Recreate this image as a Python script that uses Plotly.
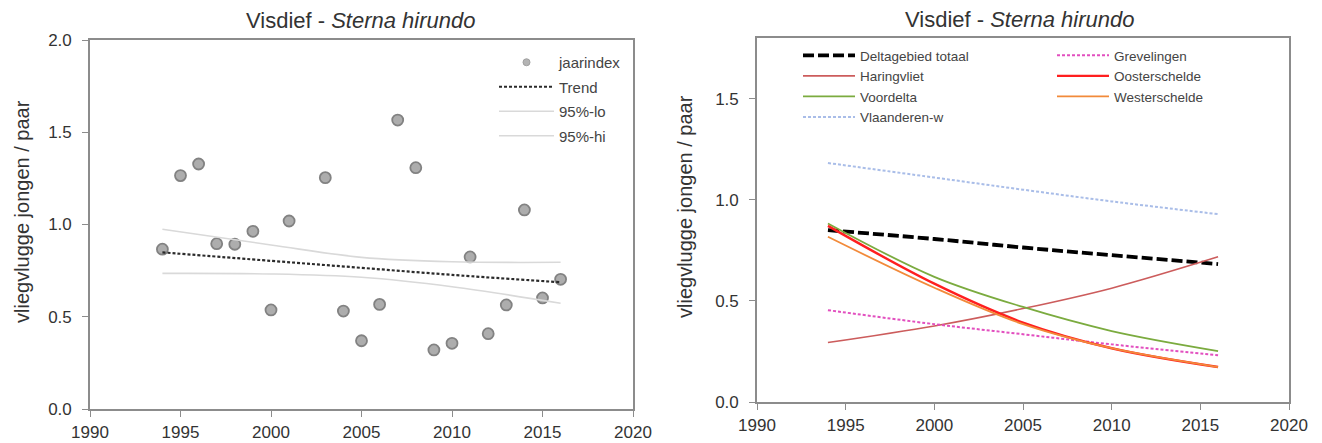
import plotly.graph_objects as go

# ---------------- data ----------------
# Left panel: annual index (jaarindex)
years_idx = [1994, 1995, 1996, 1997, 1998, 1999, 2000, 2001, 2003, 2004, 2005,
             2006, 2007, 2008, 2009, 2010, 2011, 2012, 2013, 2014, 2015, 2016]
jaarindex = [0.866, 1.265, 1.328, 0.896, 0.893, 0.963, 0.537, 1.019, 1.254, 0.531, 0.370,
             0.567, 1.566, 1.308, 0.320, 0.356, 0.824, 0.408, 0.564, 1.079, 0.602, 0.703]

trend_years = [1994, 2000, 2005, 2010, 2016]
trend = [0.849, 0.803, 0.765, 0.727, 0.687]
ci_lo = [0.735, 0.732, 0.714, 0.663, 0.573]
ci_hi = [0.974, 0.889, 0.822, 0.798, 0.795]

# Right panel: regional trends
reg_years = [1994, 2000, 2005, 2010, 2016]
deltagebied = [0.850, 0.806, 0.764, 0.726, 0.682]
grevelingen = [0.454, 0.385, 0.335, 0.285, 0.231]
haringvliet = [0.294, 0.376, 0.462, 0.563, 0.718]
oosterschelde = [0.871, 0.585, 0.393, 0.266, 0.173]
voordelta = [0.883, 0.619, 0.470, 0.351, 0.252]
westerschelde = [0.817, 0.565, 0.385, 0.266, 0.173]
vlaanderen = [1.182, 1.110, 1.050, 0.992, 0.929]

x_ticks = [1990, 1995, 2000, 2005, 2010, 2015, 2020]
left_y_ticks = [0.0, 0.5, 1.0, 1.5, 2.0]
right_y_ticks = [0.0, 0.5, 1.0, 1.5]

title_text = "Visdief - <i>Sterna hirundo</i>"
ytitle_text = "vliegvlugge jongen / paar"

# ---------------- figure ----------------
W, H = 1322, 443
FONT = "Liberation Sans, Arial, sans-serif"
fig = go.Figure()

# left panel
fig.add_trace(go.Scatter(x=years_idx, y=jaarindex, mode="markers", name="jaarindex",
                         marker=dict(size=11, color="#adadad", line=dict(color="#828282", width=1.8)),
                         xaxis="x", yaxis="y", showlegend=False))
# legend entry for the index markers (drawn smaller, as in the original legend)
fig.add_trace(go.Scatter(x=[None], y=[None], mode="markers", name="jaarindex",
                         marker=dict(size=7, color="#b4b4b4", line=dict(color="#a0a0a0", width=1)),
                         xaxis="x", yaxis="y", legend="legend", legendgroup="a"))
fig.add_trace(go.Scatter(x=trend_years, y=trend, mode="lines", name="Trend", line_shape="spline",
                         line=dict(color="#2b2b2b", width=2.2, dash="3px,2px"),
                         xaxis="x", yaxis="y", legend="legend", legendgroup="b"))
fig.add_trace(go.Scatter(x=trend_years, y=ci_lo, mode="lines", name="95%-lo", line_shape="spline",
                         line=dict(color="#d9d9d9", width=1.6),
                         xaxis="x", yaxis="y", legend="legend", legendgroup="c"))
fig.add_trace(go.Scatter(x=trend_years, y=ci_hi, mode="lines", name="95%-hi", line_shape="spline",
                         line=dict(color="#d9d9d9", width=1.6),
                         xaxis="x", yaxis="y", legend="legend", legendgroup="d"))

# right panel
def reg(name, vals, color, width, dash, legend):
    fig.add_trace(go.Scatter(x=reg_years, y=vals, mode="lines", name=name, line_shape="spline",
                             line=dict(color=color, width=width, dash=dash),
                             xaxis="x2", yaxis="y2", legend=legend))

reg("Deltagebied totaal", deltagebied, "#000000", 3.8, "11px,4px", "legend2")
reg("Haringvliet", haringvliet, "#cc5c5c", 1.6, "solid", "legend2")
reg("Voordelta", voordelta, "#7bab3f", 1.8, "solid", "legend2")
reg("Vlaanderen-w", vlaanderen, "#a9bde8", 2.0, "3px,2px", "legend2")
reg("Grevelingen", grevelingen, "#e24fbf", 2.0, "3px,2px", "legend3")
reg("Oosterschelde", oosterschelde, "#ff1f1f", 2.4, "solid", "legend3")
reg("Westerschelde", westerschelde, "#f28a3a", 1.8, "solid", "legend3")

def px_x(p):
    return p / W

def px_y(p):
    return 1 - p / H

axis_common = dict(showline=True, linecolor="#8c8c8c", linewidth=1.6, mirror=True,
                   ticks="outside", ticklen=6, tickcolor="#8c8c8c", tickwidth=1.3,
                   showgrid=False, zeroline=False, automargin=False,
                   tickfont=dict(family=FONT, size=17, color="#333333"))

fig.update_layout(
    width=W, height=H,
    margin=dict(l=0, r=0, t=0, b=0, autoexpand=False),
    paper_bgcolor="white", plot_bgcolor="white",
    font=dict(family=FONT, color="#333333"),
    xaxis=dict(domain=[px_x(90), px_x(633)], range=[1990, 2020], tickvals=x_ticks,
               anchor="y", ticklabelstandoff=1, **axis_common),
    yaxis=dict(domain=[px_y(409), px_y(40)], range=[0, 2], tickvals=left_y_ticks,
               tickformat=".1f", anchor="x", ticklabelstandoff=7, **axis_common),
    xaxis2=dict(domain=[px_x(757), px_x(1289)], range=[1990, 2020], tickvals=x_ticks,
                anchor="y2", ticklabelstandoff=1, **axis_common),
    yaxis2=dict(domain=[px_y(402), px_y(38)], range=[0, 1.8], tickvals=right_y_ticks,
                tickformat=".1f", anchor="x2", ticklabelstandoff=7, **axis_common),
    legend=dict(x=px_x(494), y=px_y(46), xanchor="left", yanchor="top",
                bgcolor="rgba(0,0,0,0)", font=dict(family=FONT, size=15, color="#444444"),
                itemwidth=55, tracegroupgap=2, traceorder="grouped"),
    legend2=dict(x=px_x(798), y=px_y(40), xanchor="left", yanchor="top",
                 bgcolor="rgba(0,0,0,0)", font=dict(family=FONT, size=13.5, color="#444444"),
                 itemwidth=52, tracegroupgap=0),
    legend3=dict(x=px_x(1052), y=px_y(40), xanchor="left", yanchor="top",
                 bgcolor="rgba(0,0,0,0)", font=dict(family=FONT, size=13.5, color="#444444"),
                 itemwidth=52, tracegroupgap=0),
    showlegend=True,
    annotations=[
        dict(text=title_text, x=px_x(361), y=px_y(21), xref="paper", yref="paper",
             showarrow=False, xanchor="center", yanchor="middle",
             font=dict(family=FONT, size=22, color="#333333")),
        dict(text=title_text, x=px_x(1020), y=px_y(20), xref="paper", yref="paper",
             showarrow=False, xanchor="center", yanchor="middle",
             font=dict(family=FONT, size=22, color="#333333")),
        dict(text=ytitle_text, x=px_x(22), y=px_y(212), xref="paper", yref="paper",
             showarrow=False, textangle=-90, xanchor="center", yanchor="middle",
             font=dict(family=FONT, size=20, color="#333333")),
        dict(text=ytitle_text, x=px_x(685), y=px_y(206), xref="paper", yref="paper",
             showarrow=False, textangle=-90, xanchor="center", yanchor="middle",
             font=dict(family=FONT, size=20, color="#333333")),
    ],
)

fig.write_html("out.html", config={"displayModeBar": False},
               post_script="document.body.style.margin='0';document.body.style.padding='0';")
